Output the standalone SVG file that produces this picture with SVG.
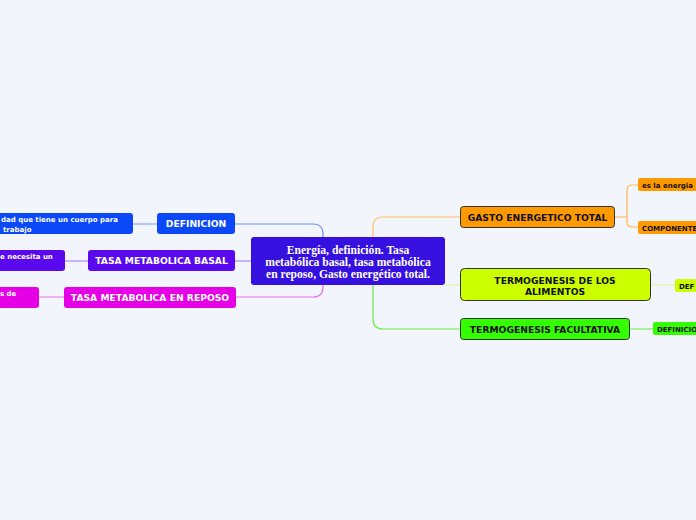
<svg xmlns="http://www.w3.org/2000/svg" width="696" height="520" viewBox="0 0 696 520">
<style>
.bg{fill:#f3f5fd}
.c{fill:none;stroke-width:1.2;stroke-linecap:round}
.t{font-family:"DejaVu Sans",Verdana,sans-serif;font-weight:bold;font-size:9.2px;text-anchor:middle}
.s{font-family:"DejaVu Sans",Verdana,sans-serif;font-weight:bold;font-size:7px}
.w{fill:#ffffff}
.k{fill:#111111}
.ctr{font-family:"Liberation Serif","Times New Roman",serif;font-weight:bold;font-size:11.6px;fill:#ffffff;text-anchor:middle}
.bd{stroke:#333333;stroke-width:1}
</style>
<rect class="bg" x="0" y="0" width="696" height="520"/>
<g id="connectors">
  <path class="c" stroke="#6f90f8" d="M235 224 H313 Q323 224 323 234 V237"/>
  <path class="c" stroke="#9b76f2" d="M235 261 H251"/>
  <path class="c" stroke="#ea72ea" d="M236 297 H313 Q323 297 323 287 V285"/>
  <path class="c" stroke="#ffc060" d="M373 237 V227 Q373 217 383 217 H460"/>
  <path class="c" stroke="#e0f890" d="M445 285 H460"/>
  <path class="c" stroke="#66f040" d="M373 285 V319 Q373 329 383 329 H460"/>
  <path class="c" stroke="#7a9cf8" d="M133 224 H157"/>
  <path class="c" stroke="#9b76f2" d="M65 261 H88"/>
  <path class="c" stroke="#ea72ea" d="M39 297 H64"/>
  <path class="c" stroke="#ffb84a" d="M615 217 H627 M638 185 H632 Q627 185 627 190 V222 Q627 227 632 227 H638"/>
  <path class="c" stroke="#e0f890" d="M651 285 H675"/>
  <path class="c" stroke="#66f040" d="M630 329 H653"/>
</g>
<g id="center">
  <rect x="251" y="237" width="194" height="48" rx="3" fill="#3510de"/>
  <text class="ctr" x="348" y="253.5">Energía, definición. Tasa</text>
  <text class="ctr" x="348" y="265.5">metabólica basal, tasa metabólica</text>
  <text class="ctr" x="348" y="277.5">en reposo, Gasto energético total.</text>
</g>
<g id="definicion">
  <rect x="157" y="213" width="78" height="21" rx="3" fill="#0a48f8"/>
  <text class="t w" x="196" y="227">DEFINICION</text>
</g>
<g id="tasa-basal">
  <rect x="88" y="250" width="147" height="21" rx="3" fill="#5a08ee"/>
  <text class="t w" x="161.5" y="264">TASA METABOLICA BASAL</text>
</g>
<g id="tasa-reposo">
  <rect x="64" y="287" width="172" height="21" rx="3" fill="#e600e6"/>
  <text class="t w" x="150" y="301">TASA METABOLICA EN REPOSO</text>
</g>
<g id="leaf-definicion">
  <rect x="-20" y="213" width="153" height="21" rx="3" fill="#0a48f8"/>
  <text class="s w" x="1" y="222">dad que tiene un cuerpo para</text>
  <text class="s w" x="3" y="232">trabajo</text>
</g>
<g id="leaf-basal">
  <rect x="-20" y="250" width="85" height="21" rx="3" fill="#5a08ee"/>
  <text class="s w" x="0" y="259">e necesita un</text>
</g>
<g id="leaf-reposo">
  <rect x="-20" y="287" width="59" height="21" rx="3" fill="#e600e6"/>
  <text class="s w" x="0" y="296">s de</text>
</g>
<g id="gasto">
  <rect class="bd" x="460.5" y="206.5" width="154" height="21" rx="3" fill="#ff9900"/>
  <text class="t k" x="537.5" y="220.5">GASTO ENERGETICO TOTAL</text>
</g>
<g id="gasto-leaf1">
  <rect x="638" y="178" width="70" height="13" rx="2" fill="#ff9900"/>
  <text class="s k" x="642" y="188">es la energia</text>
</g>
<g id="gasto-leaf2">
  <rect x="638" y="221" width="70" height="13" rx="2" fill="#ff9900"/>
  <text class="s k" x="642" y="231">COMPONENTE</text>
</g>
<g id="termo-alimentos">
  <rect class="bd" x="460.5" y="268.5" width="190" height="32" rx="4" fill="#ccff00" stroke="#555555"/>
  <text class="t k" x="555" y="284">TERMOGENESIS DE LOS</text>
  <text class="t k" x="555" y="295">ALIMENTOS</text>
</g>
<g id="termo-alimentos-leaf">
  <rect x="675" y="279" width="40" height="13" rx="2" fill="#ccff00"/>
  <text class="s k" x="679" y="289">DEF</text>
</g>
<g id="termo-facultativa">
  <rect class="bd" x="460.5" y="318.5" width="169" height="21" rx="3" fill="#33ff00"/>
  <text class="t k" x="545" y="332.5">TERMOGENESIS FACULTATIVA</text>
</g>
<g id="termo-facultativa-leaf">
  <rect x="653" y="322" width="60" height="13" rx="2" fill="#33ff00"/>
  <text class="s k" x="657" y="332">DEFINICIO</text>
</g>
</svg>
